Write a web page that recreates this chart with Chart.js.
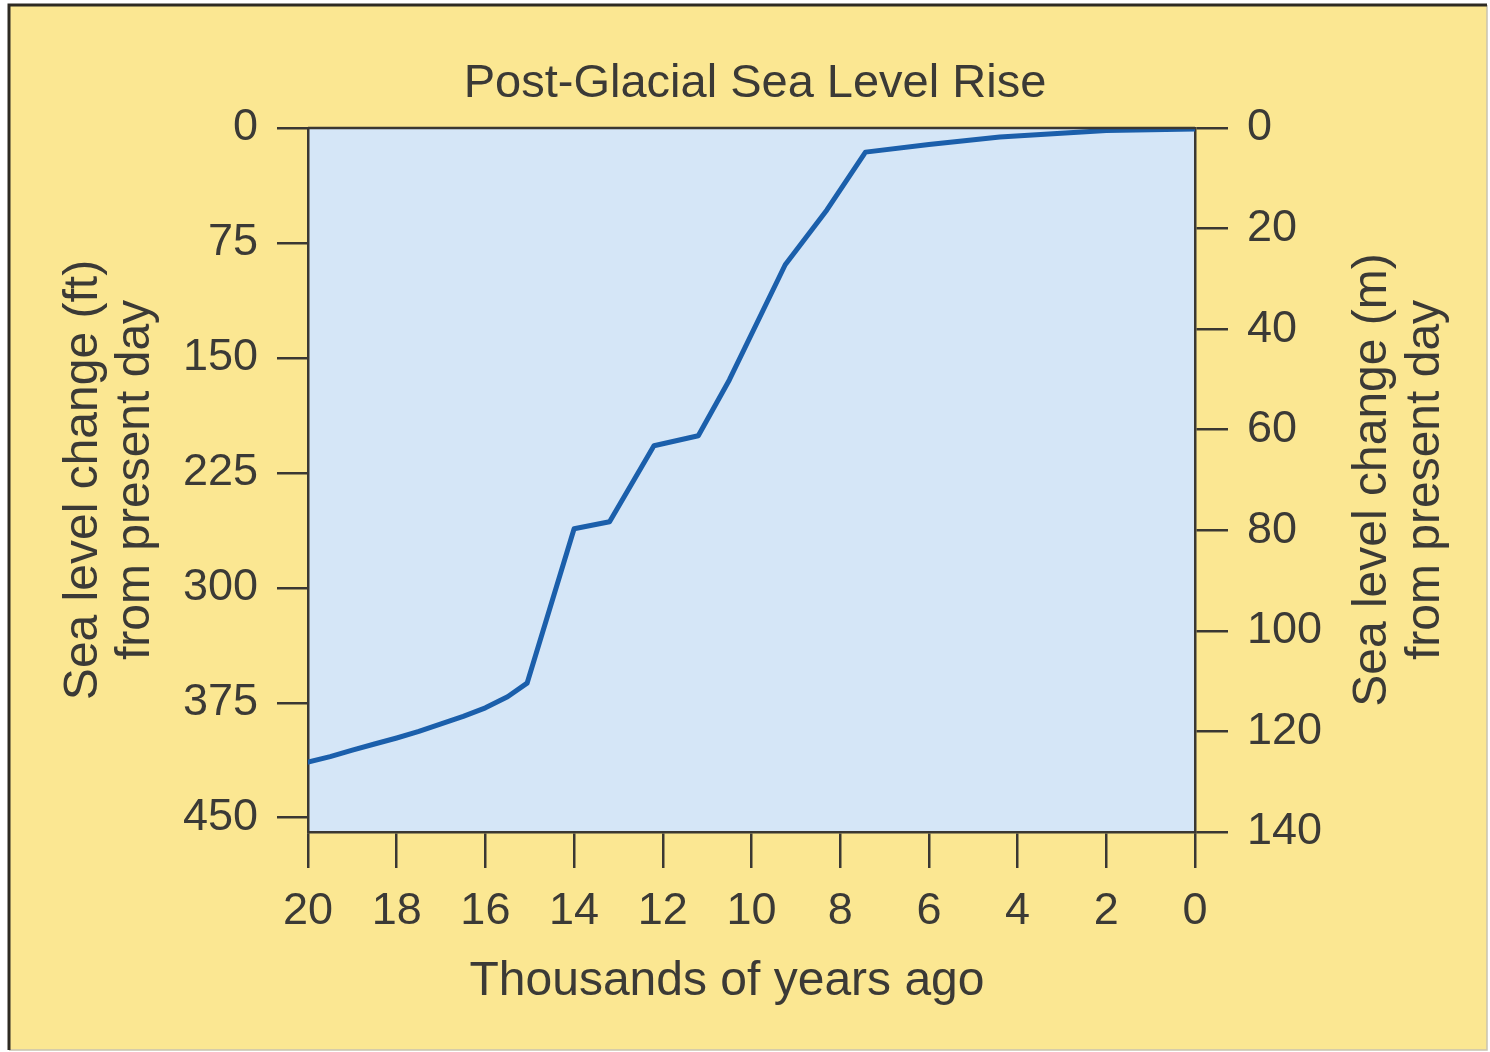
<!DOCTYPE html>
<html>
<head>
<meta charset="utf-8">
<script src="https://cdn.jsdelivr.net/npm/chart.js@4/dist/chart.umd.min.js"></script>
<style>
  html, body { margin: 0; padding: 0; background: #ffffff; }
  #wrap { width: 1490px; height: 1052px; }
</style>
</head>
<body>
<div id="wrap"><canvas id="c" width="1490" height="1052"></canvas></div>
<script>
// ---- Data ----
const chartTitle = "Post-Glacial Sea Level Rise";
const xAxisTitle = "Thousands of years ago";
const leftAxisTitle = ["Sea level change (ft)", "from present day"];
const rightAxisTitle = ["Sea level change (m)", "from present day"];

// thousands of years ago
const yearsAgo = [20, 19.5, 19, 18.5, 18, 17.5, 17, 16.5, 16, 15.5, 15.06, 14.0, 13.2, 12.2, 11.2, 10.5, 9.24, 8.3, 7.43, 6, 4.4, 2, 0];
// sea level below present (m)
const seaLevelM = [126.1, 125.0, 123.7, 122.5, 121.3, 120.0, 118.5, 117.0, 115.3, 113.1, 110.4, 79.7, 78.3, 63.2, 61.2, 50.1, 27.2, 16.3, 4.8, 3.3, 1.8, 0.5, 0.2];

const yearTicks = [20, 18, 16, 14, 12, 10, 8, 6, 4, 2, 0];
const ftTicks = [0, 75, 150, 225, 300, 375, 450];
const mTicks = [0, 20, 40, 60, 80, 100, 120, 140];
const M_MAX = 140;
const M_TO_FT = 3.28084;

// ---- Styling ----
const FONT = "'Liberation Sans', Arial, Helvetica, sans-serif";
const TEXT = '#3b3a36';
const AXIS = '#3a3833';
const YELLOW = '#fbe792';
const PLOT_BG = '#d5e6f7';
const LINE = '#1b5fab';

const bgPlugin = {
  id: 'bg',
  beforeDraw(chart) {
    const ctx = chart.ctx;
    const {left, top, right, bottom} = chart.chartArea;
    ctx.save();
    ctx.fillStyle = '#ffffff';
    ctx.fillRect(0, 0, chart.width, chart.height);
    ctx.fillStyle = YELLOW;
    ctx.fillRect(9, 5, 1478, 1045);
    ctx.strokeStyle = '#c9c4b0';
    ctx.lineWidth = 1.5;
    ctx.beginPath();
    ctx.moveTo(1487, 5); ctx.lineTo(1487, 1050); ctx.lineTo(9, 1050);
    ctx.stroke();
    ctx.strokeStyle = '#2e2a22';
    ctx.lineWidth = 3;
    ctx.beginPath();
    ctx.moveTo(9, 1050); ctx.lineTo(9, 5); ctx.lineTo(1487, 5);
    ctx.stroke();
    ctx.fillStyle = PLOT_BG;
    ctx.fillRect(left, top, right - left, bottom - top);
    ctx.restore();
  },
  afterDraw(chart) {
    const ctx = chart.ctx;
    const {left, top, right, bottom} = chart.chartArea;
    ctx.save();
    ctx.strokeStyle = AXIS;
    ctx.lineWidth = 2.5;
    ctx.beginPath();
    ctx.moveTo(left, top); ctx.lineTo(right, top);
    ctx.stroke();
    ctx.fillStyle = TEXT;
    ctx.font = "48px " + FONT;
    ctx.textAlign = 'center';
    ctx.textBaseline = 'middle';
    // x axis title (sits a little left of the plot centre in the reference)
    ctx.fillText(xAxisTitle, 727, 982);
    // right axis title (reads bottom-to-top like the left one)
    const cy = (top + bottom) / 2;
    const xs = [1373, 1426];
    rightAxisTitle.forEach((t, i) => {
      ctx.save();
      ctx.translate(xs[i], cy);
      ctx.rotate(-Math.PI / 2);
      ctx.fillText(t, 0, 0);
      ctx.restore();
    });
    ctx.restore();
  }
};

const data = {
  datasets: [{
    label: 'Sea level',
    data: yearsAgo.map((x, i) => ({x: x, y: seaLevelM[i]})),
    yAxisID: 'yM',
    xAxisID: 'x',
    borderColor: LINE,
    borderWidth: 5,
    pointRadius: 0,
    tension: 0,
    borderJoinStyle: 'round',
    borderCapStyle: 'round',
    fill: false
  }]
};

new Chart(document.getElementById('c'), {
  type: 'line',
  data: data,
  plugins: [bgPlugin],
  options: {
    responsive: false,
    devicePixelRatio: 1,
    animation: false,
    layout: { padding: { left: 20, right: 0, top: 0, bottom: 0 } },
    plugins: {
      legend: { display: false },
      tooltip: { enabled: false },
      title: {
        display: true,
        text: chartTitle,
        color: TEXT,
        font: { family: FONT, size: 47, weight: 'normal', lineHeight: 1.2 },
        padding: { top: 55.8, bottom: 15.8 }
      }
    },
    scales: {
      x: {
        type: 'linear',
        position: 'bottom',
        reverse: true,
        min: 0, max: 20,
        afterBuildTicks: s => { s.ticks = yearTicks.map(v => ({value: v})); },
        afterFit: s => { s.height = 220; },
        ticks: {
          autoSkip: false, maxRotation: 0, minRotation: 0,
          color: TEXT, padding: 17,
          font: { family: FONT, size: 45 },
          callback: v => String(v)
        },
        grid: { drawOnChartArea: false, drawTicks: true, tickLength: 36, color: AXIS, tickWidth: 2.5, lineWidth: 2.5 },
        border: { display: true, color: AXIS, width: 2.5 },
        title: { display: false }
      },
      yFt: {
        type: 'linear',
        position: 'left',
        reverse: true,
        min: 0, max: M_MAX * M_TO_FT,
        afterBuildTicks: s => { s.ticks = ftTicks.map(v => ({value: v})); },
        afterFit: s => { s.width = 288; },
        ticks: {
          autoSkip: false, color: TEXT, padding: 19,
          font: { family: FONT, size: 45 },
          callback: v => String(v)
        },
        grid: { drawOnChartArea: false, drawTicks: true, tickLength: 31, color: AXIS, tickWidth: 2.5, lineWidth: 2.5 },
        border: { display: true, color: AXIS, width: 2.5 },
        title: {
          display: true, text: leftAxisTitle, color: TEXT,
          font: { family: FONT, size: 48, lineHeight: 1.08 },
          padding: { top: 38, bottom: 0 }
        }
      },
      yM: {
        type: 'linear',
        position: 'right',
        reverse: true,
        min: 0, max: M_MAX,
        afterBuildTicks: s => { s.ticks = mTicks.map(v => ({value: v})); },
        afterFit: s => { s.width = 295; },
        ticks: {
          autoSkip: false, color: TEXT, padding: 19,
          font: { family: FONT, size: 45 },
          callback: v => String(v)
        },
        grid: { drawOnChartArea: false, drawTicks: true, tickLength: 33, color: AXIS, tickWidth: 2.5, lineWidth: 2.5 },
        border: { display: true, color: AXIS, width: 2.5 },
        title: { display: false }
      }
    }
  }
});
</script>
</body>
</html>
